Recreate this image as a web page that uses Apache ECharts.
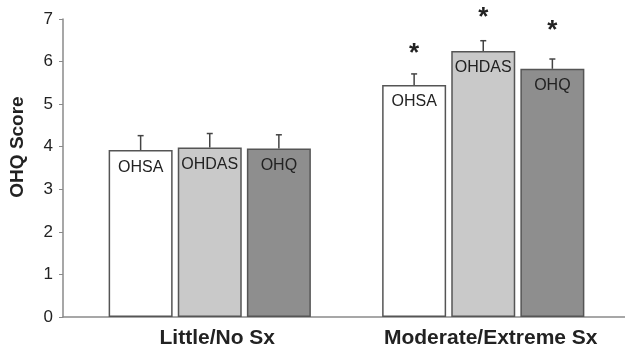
<!DOCTYPE html>
<html>
<head>
<meta charset="utf-8">
<script src="https://cdn.jsdelivr.net/npm/echarts@6.0.0/dist/echarts.min.js"></script>
<style>
  html, body { margin: 0; padding: 0; background: #fff; }
  #chart { width: 625px; height: 351px; }
</style>
</head>
<body>
<div id="chart"></div>
<script>
// groups on the x axis
const categories = ['Little/No Sx', 'Moderate/Extreme Sx'];
const seriesNames = ['OHSA', 'OHDAS', 'OHQ'];

// mean scores
const ohsa = [3.92, 5.45];
const ohdas = [3.98, 6.25];
const ohq = [3.96, 5.83];

// upper error bar lengths
const ohsaErr = [0.34, 0.26];
const ohdasErr = [0.33, 0.24];
const ohqErr = [0.32, 0.23];

// asterisk level (score units), null = no asterisk
const ohsaStar = [null, 6.32];
const ohdasStar = [null, 7.17];
const ohqStar = [null, 6.86];

const yTicks = [0, 1, 2, 3, 4, 5, 6, 7];

const FONT = "'Liberation Sans', Arial, sans-serif";
const barWidth = 64;
const barGap = 0.08;
const spacing = barWidth * (1 + barGap);

const means = [ohsa, ohdas, ohq];
const errs = [ohsaErr, ohdasErr, ohqErr];
const stars = [ohsaStar, ohdasStar, ohqStar];
const fills = ['#ffffff', '#c9c9c9', '#8e8e8e'];

const errRows = [];
means.forEach((m, s) => {
  m.forEach((v, c) => {
    errRows.push([c, s, v, errs[s][c], stars[s][c] == null ? '-' : stars[s][c]]);
  });
});

// grid 1 holds the bars, grid 0 only draws the axis frame
const barSeries = seriesNames.map((name, s) => ({
  name: name,
  type: 'bar',
  xAxisIndex: 1,
  yAxisIndex: 1,
  data: means[s],
  barWidth: barWidth,
  barGap: (barGap * 100) + '%',
  itemStyle: { color: fills[s], borderColor: '#555', borderWidth: 1.5 },
  label: {
    show: true,
    position: 'insideTop',
    distance: 9,
    formatter: '{a}',
    fontFamily: FONT,
    fontSize: 16,
    color: '#222'
  },
  silent: true
}));

const errSeries = {
  type: 'custom',
  xAxisIndex: 1,
  yAxisIndex: 1,
  data: errRows,
  encode: { x: 0, y: 2 },
  z: 5,
  renderItem: function (params, api) {
    const c = api.value(0);
    const s = api.value(1);
    const v = api.value(2);
    const e = api.value(3);
    const star = api.value(4);
    const base = api.coord([c, v]);
    const x = base[0] + (s - 1) * spacing;
    const top = api.coord([c, v + e])[1];
    const style = { stroke: '#444', lineWidth: 1.5 };
    const children = [
      { type: 'line', shape: { x1: x, y1: base[1], x2: x, y2: top }, style: style },
      { type: 'line', shape: { x1: x - 3, y1: top, x2: x + 3, y2: top }, style: style }
    ];
    if (!isNaN(star)) {
      const sy = api.coord([c, star])[1];
      children.push({
        type: 'text',
        style: {
          x: x, y: sy + 6,
          text: '*',
          font: 'bold 26px ' + FONT,
          fill: '#222',
          align: 'center', verticalAlign: 'middle',
          textAlign: 'center', textVerticalAlign: 'middle'
        }
      });
    }
    return { type: 'group', children: children };
  },
  silent: true
};

const yRange = { type: 'value', min: yTicks[0], max: yTicks[yTicks.length - 1], interval: 1 };

const chart = echarts.init(document.getElementById('chart'), null, { renderer: 'canvas' });
chart.setOption({
  animation: false,
  backgroundColor: '#fff',
  grid: [
    { left: 63, right: 0, top: 19, bottom: 34 },
    { left: 73, right: 5, top: 19, bottom: 34 }
  ],
  xAxis: [{
    type: 'category',
    gridIndex: 0,
    data: categories,
    axisLine: { lineStyle: { color: '#8a8a8a', width: 1.5 } },
    axisTick: { show: false },
    axisLabel: { show: false }
  }, {
    type: 'category',
    gridIndex: 1,
    data: categories,
    axisLine: { show: false },
    axisTick: { show: false },
    axisLabel: {
      interval: 0,
      hideOverlap: false,
      fontFamily: FONT,
      fontSize: 21,
      fontWeight: 'bold',
      color: '#222',
      margin: 11,
      padding: [0, 0, 0, 15]
    }
  }],
  yAxis: [Object.assign({}, yRange, {
    gridIndex: 0,
    axisLine: { show: true, lineStyle: { color: '#8a8a8a', width: 1.5 } },
    axisTick: { show: true, length: 4, lineStyle: { color: '#8a8a8a' } },
    splitLine: { show: false },
    axisLabel: { fontFamily: FONT, fontSize: 17, color: '#222', margin: 10 }
  }), Object.assign({}, yRange, {
    gridIndex: 1,
    show: false,
    splitLine: { show: false }
  })],
  graphic: [{
    type: 'text',
    x: 18,
    y: 147,
    rotation: Math.PI / 2,
    style: {
      text: 'OHQ Score',
      font: 'bold 19px ' + FONT,
      fill: '#222',
      align: 'center', verticalAlign: 'middle',
      textAlign: 'center', textVerticalAlign: 'middle'
    }
  }],
  series: barSeries.concat([errSeries])
});
</script>
</body>
</html>
